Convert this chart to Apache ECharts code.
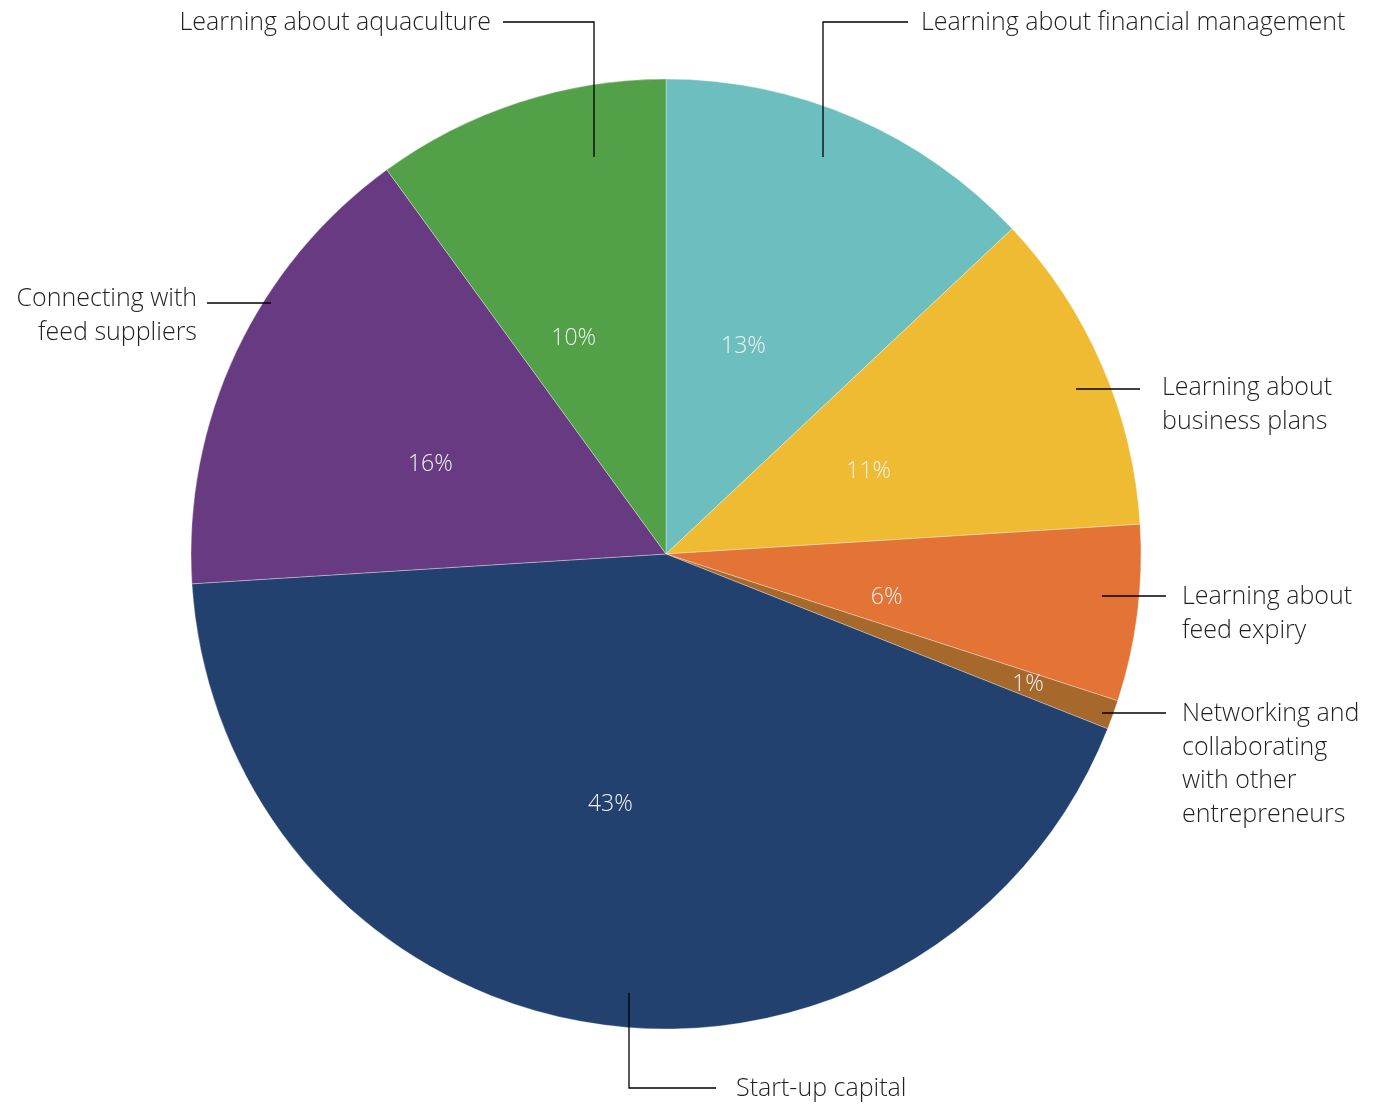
<!DOCTYPE html>
<html>
<head>
<meta charset="utf-8">
<title>Support needs</title>
<script src="https://cdn.jsdelivr.net/npm/echarts@6/dist/echarts.min.js"></script>
<style>
  html, body { margin: 0; padding: 0; background: #ffffff; }
  #chart { width: 1381px; height: 1108px; }
</style>
</head>
<body>
<div id="chart"></div>
<script>
// Slice names, clockwise from 12 o'clock
const categories = [
  'Learning about financial management',
  'Learning about\nbusiness plans',
  'Learning about\nfeed expiry',
  'Networking and\ncollaborating\nwith other\nentrepreneurs',
  'Start-up capital',
  'Connecting with\nfeed suppliers',
  'Learning about aquaculture'
];
// Share of respondents (%)
const values = [13, 11, 6, 1, 43, 16, 10];
const colors = ['#6dbfbf', '#efbb33', '#e47436', '#a6682b', '#23416f', '#683a82', '#52a048'];

// Pie geometry (pixels)
const CX = 666, CY = 554, R = 475;
const LINE_H = 33.5;

// Leader line and caption placement, offsets from the pie centre
const captionLayout = [
  { line: [[157, -397], [157, -532], [242, -532]], tx: 255, ty: -531, align: 'left' },
  { line: [[410, -165], [474, -165], [474, -165]], tx: 496, ty: -166, align: 'left' },
  { line: [[436, 42], [500, 42], [500, 42]], tx: 516, ty: 43, align: 'left' },
  { line: [[436, 159], [500, 159], [500, 159]], tx: 516, ty: 160, align: 'left' },
  { line: [[-37, 439], [-37, 534], [50, 534]], tx: 70, ty: 535, align: 'left' },
  { line: [[-395, -251], [-459, -251], [-459, -251]], tx: -469, ty: -255, align: 'right' },
  { line: [[-72, -397], [-72, -532], [-163, -532]], tx: -175, ty: -531, align: 'right' }
];

const total = values.reduce((a, b) => a + b, 0);
function midAngle(i) {
  let before = 0;
  for (let k = 0; k < i; k++) before += values[k];
  return ((before + values[i] / 2) / total) * 2 * Math.PI;
}

const pieData = categories.map((name, i) => ({
  name: name,
  value: values[i],
  itemStyle: { color: colors[i] }
}));

const FONT = '"Open Sans", "Noto Sans", sans-serif';

const chart = echarts.init(document.getElementById('chart'), null, { renderer: 'canvas' });
chart.setOption({
  backgroundColor: '#ffffff',
  animation: false,
  series: [
    {
      // coloured slices with percentage labels
      type: 'pie',
      center: [CX, CY],
      radius: [0, R],
      startAngle: 90,
      clockwise: true,
      percentPrecision: 0,
      silent: true,
      data: pieData,
      itemStyle: { borderColor: 'rgba(255,255,255,0.55)', borderWidth: 0.6 },
      label: {
        show: true,
        position: 'inside',
        formatter: '{d}%',
        color: '#f2f2f2',
        fontFamily: FONT,
        fontWeight: 300,
        fontSize: 23
      },
      labelLine: { show: false },
      labelLayout: function (p) {
        // the thin 1% slice carries its label near the rim
        if (values[p.dataIndex] <= 1) {
          const a = midAngle(p.dataIndex);
          return {
            x: CX + R * 0.81 * Math.sin(a),
            y: CY - R * 0.81 * Math.cos(a),
            align: 'center',
            verticalAlign: 'middle'
          };
        }
        return { dx: -18, dy: 13 };
      }
    },
    {
      // transparent copy that carries the category captions and leader lines
      type: 'pie',
      center: [CX, CY],
      radius: [0, R],
      startAngle: 90,
      clockwise: true,
      silent: true,
      z: 3,
      data: pieData.map(d => ({ name: d.name, value: d.value, itemStyle: { color: 'rgba(0,0,0,0)' } })),
      label: {
        show: true,
        position: 'outside',
        formatter: '{b}',
        color: '#231f20',
        fontFamily: FONT,
        fontWeight: 300,
        fontSize: 25,
        lineHeight: LINE_H,
        width: 460,
        overflow: 'none'
      },
      labelLine: {
        show: true,
        lineStyle: { color: '#000000', width: 1.3 }
      },
      labelLayout: function (p) {
        const c = captionLayout[p.dataIndex];
        return {
          x: CX + c.tx,
          y: CY + c.ty - LINE_H / 2,
          align: c.align,
          verticalAlign: 'top',
          hideOverlap: false,
          labelLinePoints: c.line.map(pt => [CX + pt[0], CY + pt[1]])
        };
      }
    }
  ]
});
</script>
</body>
</html>
